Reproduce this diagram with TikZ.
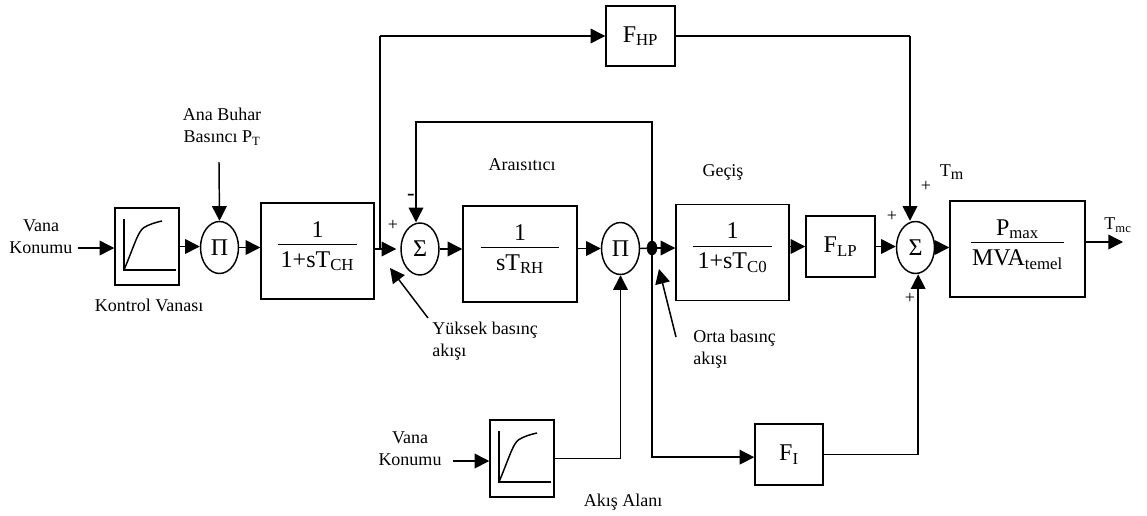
\documentclass[tikz,border=0pt]{standalone}
\usepackage{fontspec}
\usepackage{tikz}
\usetikzlibrary{arrows.meta,shapes.geometric}
\setmainfont{Liberation Serif}

\newcommand{\fracblock}[3]{\begin{tabular}{@{}c@{}}#1\\[-15pt]\rule{#3}{1.1pt}\\[-4.5pt]#2\rule[-12.5pt]{0pt}{0pt}\end{tabular}}

\tikzset{
  valvecurve/.pic={
    \draw[line width=1.1pt] (-23,-27.5) -- (-23,23.5) -- (29,23.5);
    \draw[line width=1.1pt] (-23,23.5) .. controls (-12,-3) and (-9,-15) .. (-3,-19) .. controls (2,-22) and (8,-24) .. (15,-25.5);
  }
}

\begin{document}
\begin{tikzpicture}[x=0.75pt, y=-0.75pt,
  block/.style={draw, shape=rectangle, line width=1.1pt, inner sep=0pt, font=\fontsize{18}{21}\selectfont},
  oper/.style={draw, shape=ellipse, line width=1.1pt, inner sep=0pt, minimum width=28.5pt, minimum height=39pt, font=\fontsize{18}{21}\selectfont},
  lbl/.style={inner sep=0pt, align=center, font=\fontsize{13.5}{16.5}\selectfont},
  wire/.style={line width=1.1pt},
  arr/.style={line width=1.1pt, -{Triangle[length=11pt,width=11pt]}}]

\useasboundingbox (0,0) rectangle (1147,515);

\node[block, minimum width=48pt, minimum height=57.75pt] (valveA) at (147,246.5) {};
\node[block, minimum width=48pt, minimum height=57.75pt] (valveB) at (522,458.5) {};
\pic at (valveA.center) {valvecurve};
\pic at (valveB.center) {valvecurve};

\node[oper] (piA) at (219.5,247.5) {Π};
\node[block, minimum width=84.75pt, minimum height=72pt] (ch) at (317.5,251) {\fracblock{1}{1+sT\textsubscript{CH}}{59pt}};
\node[oper] (sumA) at (420,249) {Σ};
\node[block, minimum width=85.5pt, minimum height=72pt] (rh) at (520,254) {\fracblock{1}{sT\textsubscript{RH}}{59pt}};
\node[oper] (piB) at (620.5,248.5) {Π};
\node[draw, shape=ellipse, fill=black, inner sep=0pt, minimum width=7.5pt, minimum height=10.5pt] (dot) at (652,248) {};
\node[block, minimum width=84.75pt, minimum height=72pt] (co) at (732.5,252.5) {\fracblock{1}{1+sT\textsubscript{C0}}{59pt}};
\node[block, minimum width=51.75pt, minimum height=45.75pt] (flp) at (840.5,246.5) {\raisebox{2pt}{F\textsubscript{LP}}};
\node[oper] (sumB) at (915.5,247.5) {Σ};
\node[block, minimum width=101.25pt, minimum height=72pt] (pmax) at (1017.5,249) {\fracblock{P\textsubscript{max}}{MVA\textsubscript{temel}}{70pt}};
\node[block, minimum width=51.75pt, minimum height=45pt] (fhp) at (640.5,36) {F\textsubscript{HP}};
\node[block, minimum width=51pt, minimum height=45.75pt] (fi) at (789,454.5) {F\textsubscript{I}};

\node[lbl] (vanaA) at (41,237) {Vana\\Konumu};
\node[lbl] (vanaB) at (410,449) {Vana\\Konumu};
\node[lbl] (buhar) at (222,127) {Ana Buhar\\Basıncı P\textsubscript{T}};
\node[lbl] (kontrol) at (149,305) {Kontrol Vanası};
\node[lbl, align=left, anchor=west] (yuksek) at (432,341) {Yüksek basınç\\akışı};
\node[lbl, align=left, anchor=west] (orta) at (693,349) {Orta basınç\\akışı};
\node[lbl] (arasitici) at (522,165) {Araısıtıcı};
\node[lbl] (gecis) at (723,172) {Geçiş};
\node[lbl] (akis) at (623,502) {Akış Alanı};
\node[lbl] (tm) at (952,172) {T\textsubscript{\fontsize{12}{12}\selectfont m}};
\node[lbl] (tmc) at (1118,225) {T\textsubscript{mc}};
\node[lbl] (plusA) at (393,225) {+};
\node[lbl, font=\fontsize{17}{17}\selectfont] (minusA) at (411,197) {-};
\node[lbl] (plusB) at (926,186) {+};
\node[lbl] (plusC) at (892,216) {+};
\node[lbl] (plusD) at (910,298) {+};

\coordinate (vanaAend) at (78,248);
\coordinate (vanaBend) at (453,461);
\coordinate (buharend) at (219,162);
\coordinate (tapA) at (380,248);
\coordinate (fbkR) at (652,122);
\coordinate (fbkL) at (416,122);
\coordinate (fhpR) at (910,36);
\coordinate (tmcend) at (1123,242);
\coordinate (yuksekend) at (428,318);
\coordinate (ortaend) at (676,337);
\coordinate (yuksektip) at (390,268);
\coordinate (ortatip) at (659,269);

\draw[arr] (vanaAend) -- (vanaAend -| valveA.west);
\draw[arr] (valveA.east) -- (valveA.east -| piA.west);
\draw[arr] (buharend) -- (piA.north);
\draw[arr] (piA.east) -- (piA.east -| ch.west);
\draw[arr, shorten >=3pt] (ch.east |- sumA.west) -- (sumA.west);
\draw[wire] (tapA) -- (tapA |- fhp.west);
\draw[arr] (tapA |- fhp.west) -- (fhp.west);
\draw[arr] (dot.center) -- (fbkR) -- (fbkL) -- (fbkL |- sumA.north);
\draw[arr] (sumA.east) -- (sumA.east -| rh.west);
\draw[arr] (rh.east |- piB.west) -- (piB.west);
\draw[wire] (piB.east) -- (dot.center);
\draw[arr] (dot.center) -- (dot.center -| co.west);
\draw[arr] (co.east |- flp.west) -- (flp.west);
\draw[arr] (flp.east) -- (flp.east -| sumB.west);
\draw[arr] (sumB.east) -- (sumB.east -| pmax.west);
\draw[wire] (fhp.east) -- (fhpR);
\draw[arr] (fhpR) -- (fhpR |- sumB.north);
\draw[arr] (pmax.east |- tmcend) -- (tmcend);
\draw[arr] (vanaBend) -- (vanaBend -| valveB.west);
\draw[wire] (valveB.east) -- (valveB.east -| piB.south);
\draw[arr] (valveB.east -| piB.south) -- (piB.south);
\draw[arr] (dot.center) |- ([yshift=-2pt]fi.west);
\draw[arr] (fi.east) -| ([xshift=2pt]sumB.south);
\draw[arr] (yuksekend) -- (yuksektip);
\draw[arr] (ortaend) -- (ortatip);
\end{tikzpicture}
\end{document}
